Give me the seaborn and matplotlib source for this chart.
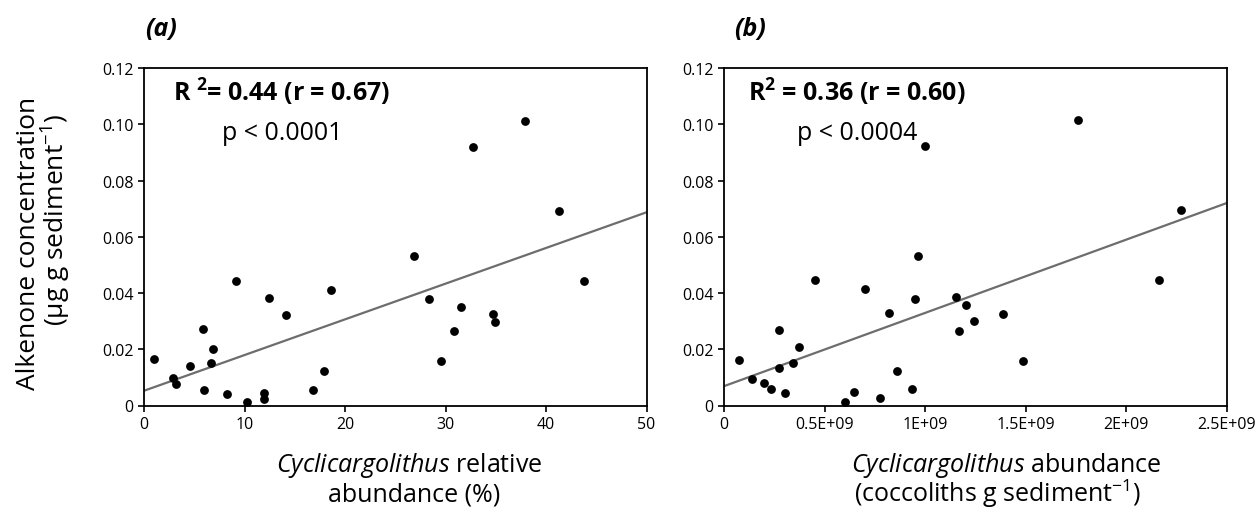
import matplotlib
matplotlib.use("Agg")
import matplotlib.pyplot as plt
import seaborn as sns
import pandas as pd

# ---- data ----
rel_abund = [1.03, 2.92, 3.19, 4.58, 5.91, 5.98, 6.64, 6.91, 8.23, 9.13, 10.23, 11.95, 11.95,
             12.48, 14.14, 16.77, 17.9, 18.63, 26.83, 28.39, 29.55, 30.81, 31.5, 32.74, 34.73,
             34.96, 37.92, 41.3, 43.76]
alk_a = [0.0164, 0.0097, 0.0077, 0.0140, 0.0273, 0.0056, 0.0152, 0.0202, 0.0040, 0.0443, 0.0011,
         0.0045, 0.0023, 0.0384, 0.0321, 0.0056, 0.0121, 0.0409, 0.0532, 0.0377, 0.0158, 0.0264,
         0.0352, 0.0920, 0.0327, 0.0297, 0.1011, 0.0692, 0.0443]

abund = [0.075e9, 0.141e9, 0.201e9, 0.233e9, 0.274e9, 0.273e9, 0.304e9, 0.341e9, 0.371e9, 0.452e9,
         0.602e9, 0.648e9, 0.700e9, 0.778e9, 0.823e9, 0.861e9, 0.934e9, 0.949e9, 0.967e9, 1.000e9,
         1.153e9, 1.167e9, 1.203e9, 1.246e9, 1.387e9, 1.486e9, 1.761e9, 2.164e9, 2.272e9]
alk_b = [0.0163, 0.0095, 0.0080, 0.0059, 0.0270, 0.0134, 0.0043, 0.0151, 0.0207, 0.0446,
         0.0011, 0.0047, 0.0414, 0.0026, 0.0328, 0.0123, 0.0059, 0.0380, 0.0532, 0.0924,
         0.0385, 0.0264, 0.0357, 0.0299, 0.0326, 0.0158, 0.1016, 0.0448, 0.0696]

y_ticks = [0, 0.02, 0.04, 0.06, 0.08, 0.10, 0.12]
y_ticklabels = ["0", "0.02", "0.04", "0.06", "0.08", "0.10", "0.12"]
xa_ticks = [0, 10, 20, 30, 40, 50]
xa_ticklabels = ["0", "10", "20", "30", "40", "50"]
xb_ticks = [0, 0.5e9, 1e9, 1.5e9, 2e9, 2.5e9]
xb_ticklabels = ["0", "0.5E+09", "1E+09", "1.5E+09", "2E+09", "2.5E+09"]

panel_labels = ["(a)", "(b)"]
stats_r2 = [r"R $^{\mathbf{2}}$= 0.44 (r = 0.67)", r"R$^{\mathbf{2}}$ = 0.36 (r = 0.60)"]
stats_p = ["p < 0.0001", "p < 0.0004"]
xlabel_l1 = [r"$\mathit{Cyclicargolithus}$ relative", r"$\mathit{Cyclicargolithus}$ abundance"]
xlabel_l2 = ["abundance (%)", "(coccoliths g sediment$^{\\mathregular{-1}}$)"]
ylabel_l1 = "Alkenone concentration"
ylabel_l2 = "(µg g sediment$^{\\mathregular{-1}}$)"

sns.set_theme(style="ticks")
plt.rcParams['font.family'] = ['Open Sans', 'DejaVu Sans']
plt.rcParams['mathtext.fontset'] = 'custom'
plt.rcParams['mathtext.rm'] = 'Open Sans'
plt.rcParams['mathtext.it'] = 'Open Sans:italic'
plt.rcParams['mathtext.bf'] = 'Open Sans:bold'
plt.rcParams['text.color'] = 'black'

W, H = 1255, 510
fig = plt.figure(figsize=(W / 100, H / 100), dpi=100)


def P(px, py):
    return px / W, 1 - py / H


ax_a = fig.add_axes([144 / W, 1 - 406.5 / H, 502.5 / W, 337.5 / H])
ax_b = fig.add_axes([724 / W, 1 - 406.5 / H, 502.5 / W, 337.5 / H])

df_a = pd.DataFrame({"x": rel_abund, "y": alk_a})
df_b = pd.DataFrame({"x": abund, "y": alk_b})

tick_font = dict(family=['Open Sans', 'DejaVu Sans'], size=11.5, color='black')

panels = [(ax_a, df_a, (0, 50), xa_ticks, xa_ticklabels),
          (ax_b, df_b, (0, 2.5e9), xb_ticks, xb_ticklabels)]
for i, (ax, df, xlim, xt, xtl) in enumerate(panels):
    ax.set_xlim(*xlim)
    ax.set_ylim(0, 0.12)
    sns.regplot(data=df, x="x", y="y", ax=ax, scatter=False, ci=None, truncate=False,
                line_kws=dict(color="#6d6d6d", lw=1.6))
    sns.scatterplot(data=df, x="x", y="y", ax=ax, color="black", s=40, edgecolor="black",
                    linewidth=0, zorder=3)
    ax.set_xlim(*xlim)
    ax.set_ylim(0, 0.12)
    ax.set_xticks(xt)
    ax.set_xticklabels(xtl, fontdict=tick_font)
    ax.set_yticks(y_ticks)
    ax.set_yticklabels(y_ticklabels, fontdict=tick_font)
    for s in ax.spines.values():
        s.set_visible(True)
        s.set_linewidth(1.3)
        s.set_color("black")
    ax.tick_params(direction="out", length=4, width=1.2, color="black", pad=3.5)
    ax.set_xlabel("")
    ax.set_ylabel("")

# stats annotations
for cx, r2, p in zip([282, 857], stats_r2, stats_p):
    fig.text(*P(cx, 101.5), r2, ha="center", va="baseline", fontsize=18, fontweight="bold")
    fig.text(*P(cx, 140), p, ha="center", va="baseline", fontsize=18)

# panel labels
for cx, lab in zip([161, 750], panel_labels):
    fig.text(*P(cx, 29), lab, ha="center", va="center", fontsize=18,
             fontweight="bold", fontstyle="italic")

# x labels
for cx1, cx2, l1, l2 in zip([409, 1006], [414, 998], xlabel_l1, xlabel_l2):
    fig.text(*P(cx1, 472), l1, ha="center", va="baseline", fontsize=18)
    fig.text(*P(cx2, 502), l2, ha="center", va="baseline", fontsize=18)

# y label (two lines)
fig.text(*P(35, 243.5), ylabel_l1, rotation=90, rotation_mode="anchor",
         ha="center", va="baseline", fontsize=19)
fig.text(*P(65, 220), ylabel_l2, rotation=90, rotation_mode="anchor",
         ha="center", va="baseline", fontsize=19)

fig.savefig("out.png", dpi=100)
